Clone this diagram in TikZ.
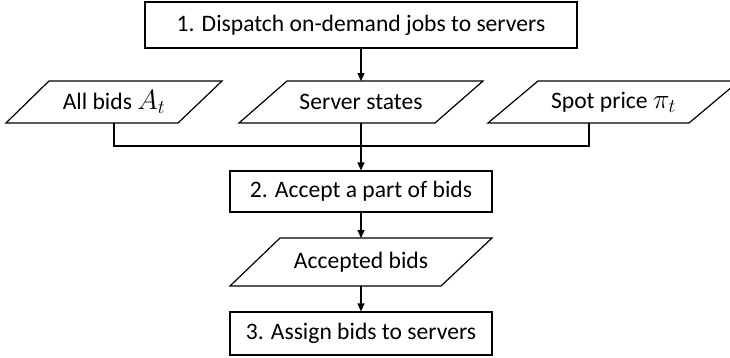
\documentclass[tikz,border=0pt]{standalone}
\usepackage{fontspec}
\setmainfont{Carlito}
\usetikzlibrary{arrows.meta}
\newcommand{\bigmath}[1]{\scalebox{1.12}{$#1$}}
\begin{document}
\begin{tikzpicture}[x=1pt,y=-1pt,
  line/.style={draw=black,line width=1.2pt,line join=miter},
  box/.style={line,rectangle,inner sep=0pt,fill=white},
  txt/.style={inner sep=0pt,font=\fontsize{23.6}{28}\selectfont},
  arr/.style={line,-{Triangle[length=8pt,width=7pt]}},
  conn/.style={line}]
\useasboundingbox (0,0) rectangle (730,357);
\clip (0,0) rectangle (730,357);
% process boxes
\node[box,minimum width=432pt,minimum height=46pt] (b1) at (361,25) {};
\node[txt] (t1) at (b1.center) {1. Dispatch on-demand jobs to servers};
\node[box,minimum width=262pt,minimum height=41pt] (b2) at (361,191.5) {};
\node[txt] (t2) at (b2.center) {2. Accept a part of bids};
\node[box,minimum width=262pt,minimum height=43pt] (b3) at (361,333.5) {};
\node[txt] (t3) at (b3.center) {3. Assign bids to servers};
% data (parallelograms)
\draw[line] (6,123) -- (49,81) -- (222,81) -- (178,123) -- cycle;
\node[txt] (p1) at (114,102) {All bids \bigmath{A_t}};
\draw[line] (239,123) -- (287,81) -- (483,81) -- (435,123) -- cycle;
\node[txt] (p2) at (361,102) {Server states};
\draw[line] (488,123) -- (538,81) -- (739,81) -- (689,123) -- cycle;
\node[txt] (p3) at (613.5,102) {Spot price \bigmath{\pi_t}};
\draw[line] (230,286) -- (280,238) -- (492,238) -- (441,286) -- cycle;
\node[txt] (p4) at (361,262) {Accepted bids};
% anchor points on the parallelogram edges
\coordinate (p1b) at (114,123);
\coordinate (p2t) at (361,81);
\coordinate (p2b) at (361,123);
\coordinate (p3b) at (589,123);
\coordinate (p4t) at (361,238);
\coordinate (p4b) at (361,286);
\coordinate (j) at (361,146);
% connectors
\draw[arr] (b1.south) -- (p2t);
\draw[conn] (p1b) |- (j);
\draw[conn] (p3b) |- (j);
\draw[arr] (p2b) -- (b2.north);
\draw[arr] (b2.south) -- (p4t);
\draw[arr] (p4b) -- (b3.north);
\end{tikzpicture}
\end{document}
